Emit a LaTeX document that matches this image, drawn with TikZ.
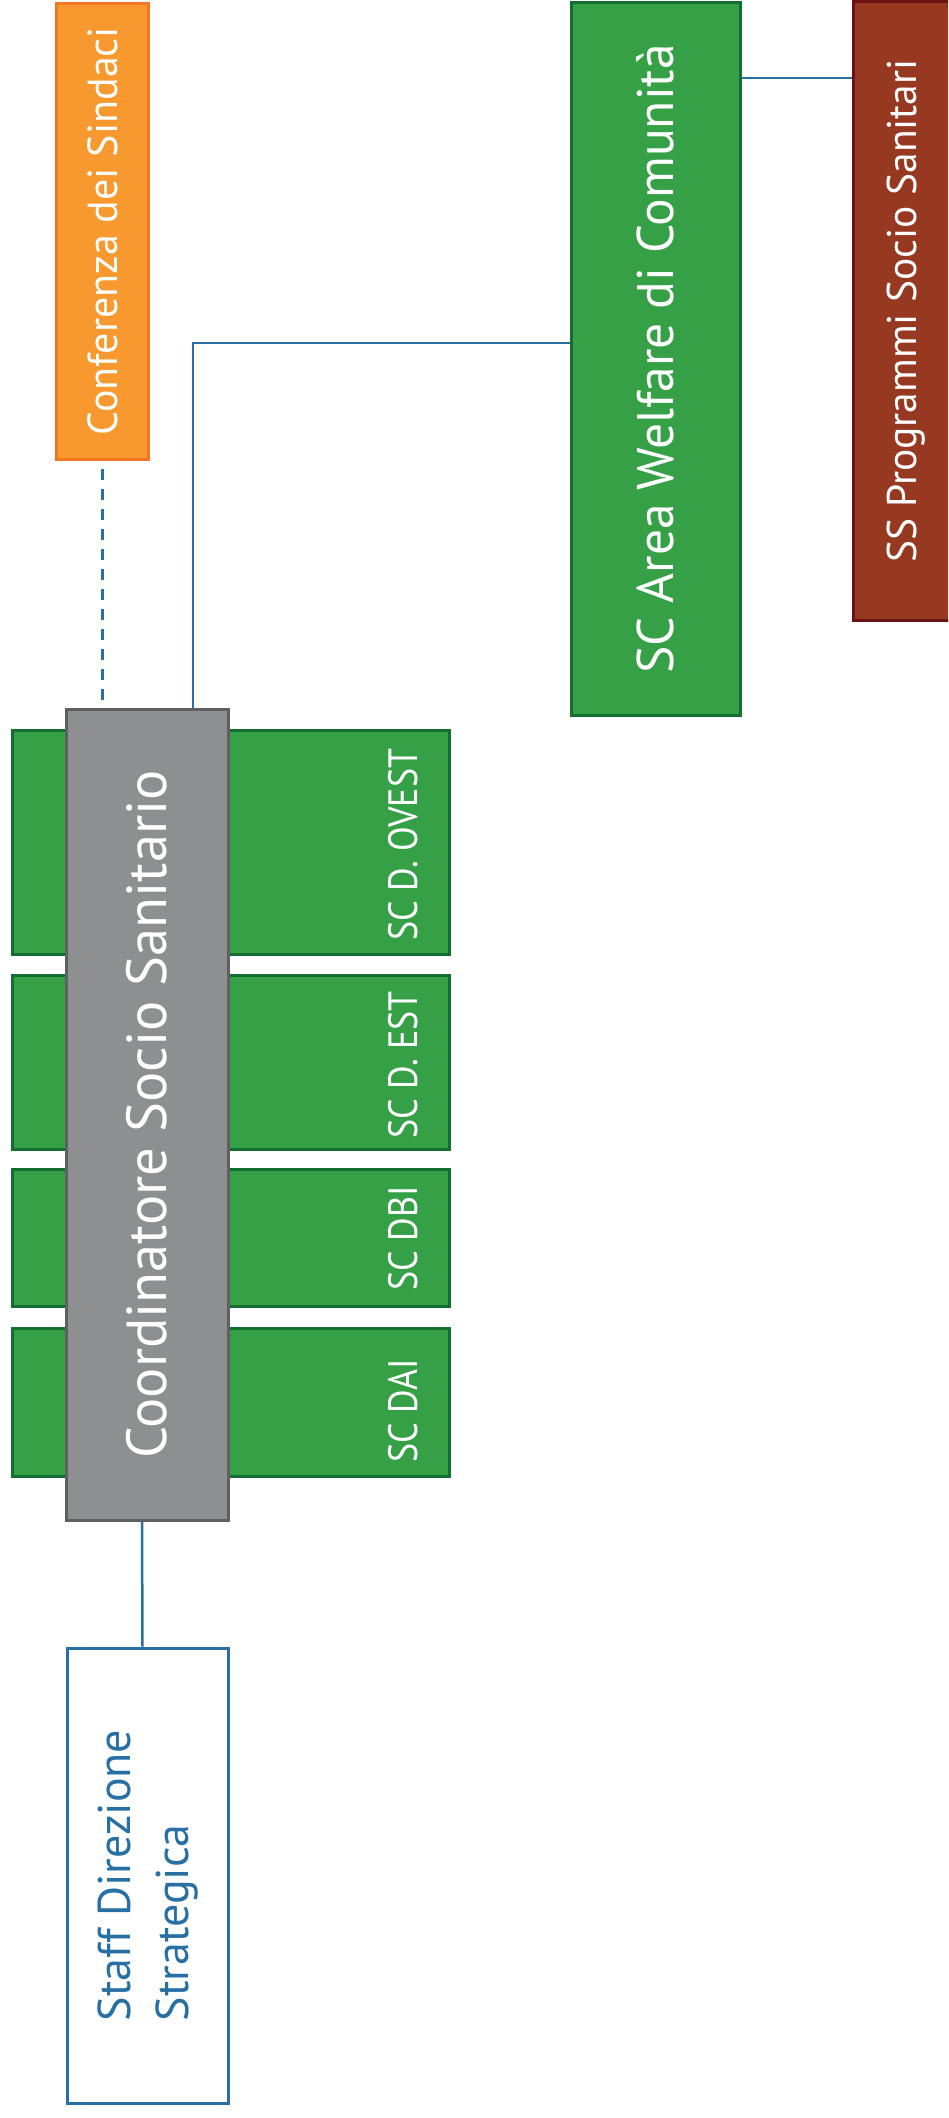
\documentclass[tikz,border=0pt]{standalone}
\usepackage{fontspec}
\setmainfont{PT Sans}
\newfontfamily\condfont[FakeStretch=0.88]{PT Sans}

\definecolor{unitgreen}{HTML}{35A046}
\definecolor{unitedge}{HTML}{146E32}
\definecolor{confill}{HTML}{F7992F}
\definecolor{confedge}{HTML}{F37626}
\definecolor{coordfill}{HTML}{8E8F91}
\definecolor{coordedge}{HTML}{5F6062}
\definecolor{ssfill}{HTML}{973821}
\definecolor{ssedge}{HTML}{6B1212}
\definecolor{linkblue}{HTML}{2870A4}

\tikzset{
	box/.style={rotate=90, inner sep=0pt, line width=3pt, text=white, align=center},
	unit/.style={box, draw=unitedge, fill=unitgreen, minimum width=#1, minimum height=437pt},
	unitlabel/.style={rotate=90, anchor=base west, inner sep=0pt, text=white,
		font=\condfont\fontsize{41}{49}\selectfont},
	link/.style={draw=linkblue, line width=2.5pt}
}

\begin{document}
\begin{tikzpicture}[x=1pt, y=-1pt]
		\useasboundingbox (0, 0) rectangle (948, 2118);
		\clip (0, 0) rectangle (948, 2118);

		% top row
		\node[box, draw=confedge, fill=confill, minimum width=456pt, minimum height=92pt,
			font=\fontsize{42}{50}\selectfont] (conf) at (102.6, 231) {Conferenza dei Sindaci};
		\node[box, draw=unitedge, fill=unitgreen, minimum width=713pt, minimum height=169pt,
			font=\fontsize{51.5}{62}\selectfont] (welfare) at (655.5, 359) {SC Area Welfare di Comunità};
		\node[box, draw=ssedge, fill=ssfill, minimum width=619pt, minimum height=107pt,
			font=\fontsize{41.5}{50}\selectfont] (ss) at (906.5, 311) {SS Programmi Socio Sanitari};

		% districts behind the coordinator
		\node[unit=224pt] (ovest) at (230.5, 842.7) {};
		\node[unit=174pt] (est) at (230.5, 1062.7) {};
		\node[unit=137pt] (dbi) at (230.5, 1238) {};
		\node[unit=148pt] (dai) at (230.5, 1402) {};
		\node[unitlabel] (ovestlbl) at (417, 941) {SC D. OVEST};
		\node[unitlabel] (estlbl) at (417, 1139) {SC D. EST};
		\node[unitlabel] (dbilbl) at (417, 1291) {SC DBI};
		\node[unitlabel] (dailbl) at (417, 1463) {SC DAI};

		\node[box, draw=coordedge, fill=coordfill, minimum width=811pt, minimum height=162pt,
			font=\fontsize{56.5}{68}\selectfont] (coord) at (147, 1114.5) {Coordinatore Socio Sanitario};

		\node[box, draw=linkblue, fill=white, text=linkblue, align=left, minimum width=455pt,
			minimum height=161pt, font=\fontsize{46}{58}\selectfont] (staff) at (147.5, 1875.5)
			{Staff Direzione\\Strategica};

		\draw[link, dash pattern=on 11pt off 9pt, dash phase=-8pt] (conf.west) -- (conf.west |- coord.east);
		\draw[link] ([xshift=46pt]coord.east) |- ([yshift=16pt]welfare.north);
		\draw[link] ([yshift=233pt]ss.north) -- ([yshift=233pt]ss.north -| welfare.south);
		\draw[link] ([xshift=-5pt]coord.west) -- ([xshift=-5pt]staff.east);
	\end{tikzpicture}
\end{document}
